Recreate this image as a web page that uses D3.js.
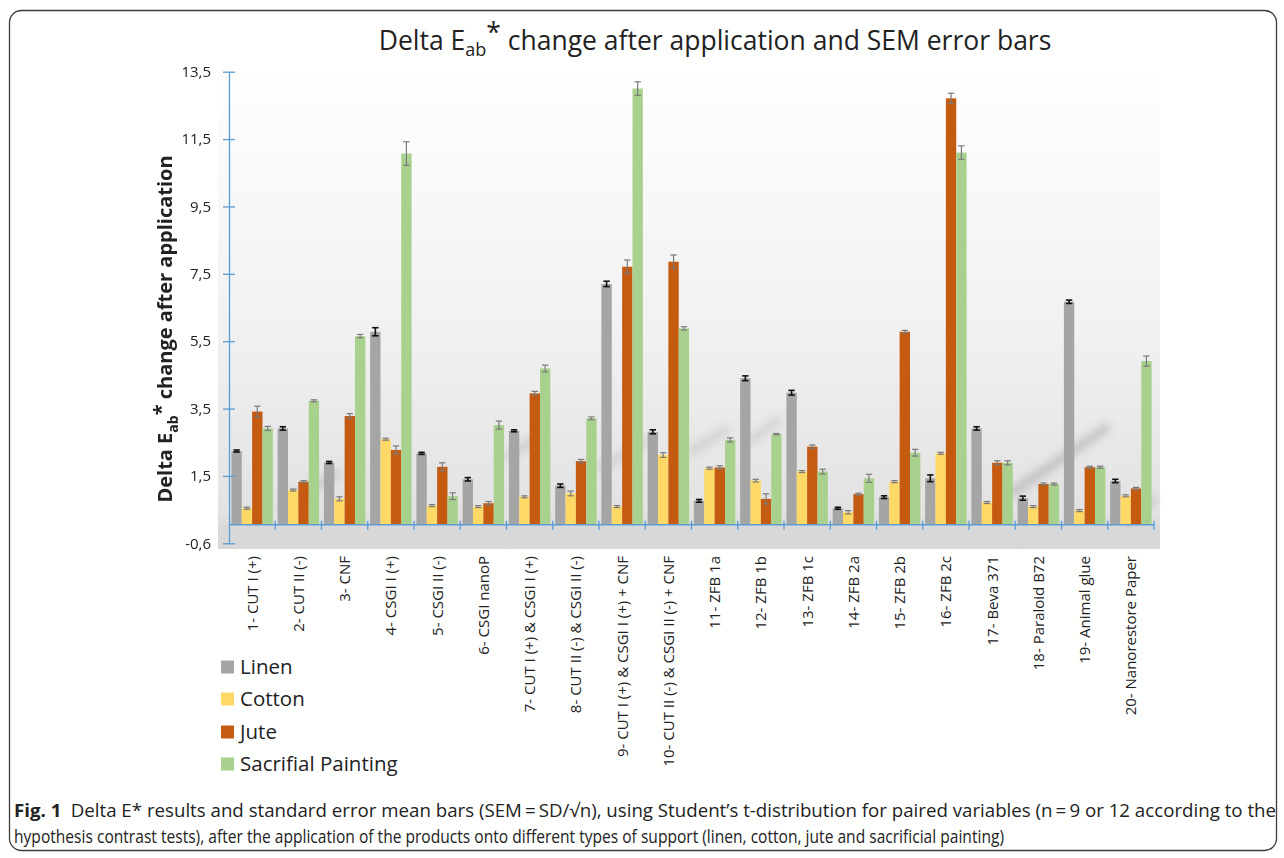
<!DOCTYPE html>
<html>
<head>
<meta charset="utf-8">
<script src="https://cdn.jsdelivr.net/npm/d3@7"></script>
<style>
  html, body { margin: 0; padding: 0; background: #fff; }
  svg { display: block; font-family: "Open Sans", "Noto Sans", sans-serif; }
</style>
</head>
<body>
<svg id="chart" width="1284" height="858"></svg>
<script>
// Treatments applied to the supports
const categories = [
  "1- CUT I (+)", "2- CUT II (-)", "3- CNF", "4- CSGI I (+)", "5- CSGI II (-)",
  "6- CSGI nanoP", "7- CUT I (+) & CSGI I (+)", "8- CUT II (-) & CSGI II (-)",
  "9- CUT I (+) & CSGI I (+) + CNF", "10- CUT II (-) & CSGI II (-) + CNF",
  "11- ZFB 1a", "12- ZFB 1b", "13- ZFB 1c", "14- ZFB 2a", "15- ZFB 2b",
  "16- ZFB 2c", "17- Beva 371", "18- Paraloid B72", "19- Animal glue",
  "20- Nanorestore Paper"
];

// Supports (series)
const seriesNames = ["Linen", "Cotton", "Jute", "Sacrifial Painting"];
const seriesColors = ["#a5a5a5", "#ffd966", "#c55a11", "#a9d18e"];
const errorColors = ["#111111", "#7a7a7a", "#7a7a7a", "#7a7a7a"];

// Mean Delta E*ab per treatment
const linen       = [2.19, 2.86, 1.85, 5.73, 2.12, 1.35, 2.79, 1.16, 7.15, 2.76, 0.71, 4.35, 3.92, 0.49, 0.82, 1.38, 2.86, 0.79, 6.62, 1.30];
const cotton      = [0.49, 1.03, 0.77, 2.54, 0.57, 0.54, 0.83, 0.93, 0.54, 2.07, 1.68, 1.31, 1.58, 0.37, 1.28, 2.12, 0.66, 0.54, 0.42, 0.86];
const jute        = [3.36, 1.28, 3.23, 2.22, 1.72, 0.64, 3.90, 1.89, 7.66, 7.81, 1.70, 0.77, 2.32, 0.91, 5.73, 12.66, 1.84, 1.21, 1.71, 1.08];
const sacrificial = [2.86, 3.68, 5.60, 11.02, 0.85, 2.96, 4.64, 3.16, 12.95, 5.83, 2.52, 2.69, 1.58, 1.38, 2.14, 11.05, 1.84, 1.21, 1.71, 4.86];

// Standard error of the mean per treatment
const linenSem       = [0.03, 0.05, 0.03, 0.12, 0.03, 0.05, 0.03, 0.05, 0.08, 0.06, 0.04, 0.07, 0.07, 0.03, 0.04, 0.10, 0.05, 0.06, 0.05, 0.05];
const cottonSem      = [0.03, 0.03, 0.06, 0.03, 0.03, 0.03, 0.03, 0.07, 0.03, 0.07, 0.03, 0.04, 0.03, 0.05, 0.03, 0.03, 0.03, 0.03, 0.03, 0.03];
const juteSem        = [0.16, 0.03, 0.07, 0.12, 0.12, 0.05, 0.06, 0.05, 0.20, 0.20, 0.05, 0.15, 0.05, 0.03, 0.04, 0.15, 0.06, 0.03, 0.03, 0.03];
const sacrificialSem = [0.06, 0.03, 0.05, 0.35, 0.10, 0.12, 0.10, 0.04, 0.20, 0.05, 0.06, 0.02, 0.07, 0.12, 0.10, 0.20, 0.06, 0.03, 0.03, 0.15];

// Value axis ticks and their printed labels
const yTickValues = [-0.55, 1.45, 3.45, 5.45, 7.45, 9.45, 11.45, 13.45];
const yTickLabels = ["-0,6", "1,5", "3,5", "5,5", "7,5", "9,5", "11,5", "13,5"];

const seriesValues = [linen, cotton, jute, sacrificial];
const seriesSem = [linenSem, cottonSem, juteSem, sacrificialSem];

const svg = d3.select("#chart");
const defs = svg.append("defs");

// Plot-area background gradient
const grad = defs.append("linearGradient").attr("id", "plotBg")
  .attr("x1", 0).attr("y1", 0).attr("x2", 0).attr("y2", 1);
grad.append("stop").attr("offset", "0").attr("stop-color", "#ffffff");
grad.append("stop").attr("offset", "0.55").attr("stop-color", "#f1f1f1");
grad.append("stop").attr("offset", "0.93").attr("stop-color", "#e2e2e2");
grad.append("stop").attr("offset", "0.955").attr("stop-color", "#d9d9d9");
grad.append("stop").attr("offset", "1").attr("stop-color", "#d7d7d7");

defs.append("filter").attr("id", "soft").attr("x", "-50%").attr("y", "-50%").attr("width", "200%").attr("height", "200%")
  .append("feGaussianBlur").attr("stdDeviation", 4);

// Outer figure frame
svg.append("rect")
  .attr("x", 9.5).attr("y", 10.5).attr("width", 1267).attr("height", 840)
  .attr("rx", 12).attr("ry", 12)
  .attr("fill", "#fff").attr("stroke", "#3d3d3d").attr("stroke-width", 1.3);

// Scales
const x0 = d3.scaleBand().domain(categories).range([229, 1154]).paddingInner(0).paddingOuter(0);
const x1 = d3.scaleBand().domain(seriesNames).range([2.4, x0.bandwidth() - 2.4]).padding(0);
const y = d3.scaleLinear().domain([-0.55, 13.45]).range([543.3, 71.7]);

// Plot area
svg.append("rect")
  .attr("x", 218).attr("y", 62).attr("width", 942).attr("height", 487)
  .attr("fill", "url(#plotBg)");

// Faint diagonal shadow streaks on the plot background
const streaks = [
  [284, 504, 336, 474, 0.35], [508, 456, 540, 437, 0.3], [600, 468, 648, 441, 0.25],
  [690, 452, 726, 430, 0.25], [752, 440, 778, 420, 0.25], [1013, 492, 1106, 428, 0.45],
  [1128, 522, 1152, 500, 0.35]
];
svg.append("g").attr("filter", "url(#soft)")
  .selectAll("line").data(streaks).join("line")
  .attr("x1", d => d[0]).attr("y1", d => d[1]).attr("x2", d => d[2]).attr("y2", d => d[3])
  .attr("stroke", "#8c8c8c").attr("stroke-width", 8).attr("stroke-linecap", "round")
  .attr("opacity", d => d[4]);

// Bars
const rows = [];
categories.forEach((c, i) => {
  seriesNames.forEach((s, j) => {
    rows.push({ cat: c, series: s, j, value: seriesValues[j][i], sem: seriesSem[j][i] });
  });
});

const barG = svg.append("g");
barG.selectAll("rect").data(rows).join("rect")
  .attr("x", d => x0(d.cat) + x1(d.series))
  .attr("width", x1.bandwidth())
  .attr("y", d => y(Math.max(0, d.value)))
  .attr("height", d => Math.abs(y(d.value) - y(0)))
  .attr("fill", d => seriesColors[d.j]);

// SEM error bars
const errG = svg.append("g").selectAll("g").data(rows).join("g")
  .attr("stroke", d => errorColors[d.j])
  .attr("stroke-width", d => d.j === 0 ? 1.6 : 1.2);
const cx = d => x0(d.cat) + x1(d.series) + x1.bandwidth() / 2;
errG.append("line")
  .attr("x1", cx).attr("x2", cx)
  .attr("y1", d => y(d.value + d.sem)).attr("y2", d => y(d.value - d.sem));
errG.append("line")
  .attr("x1", d => cx(d) - 3.2).attr("x2", d => cx(d) + 3.2)
  .attr("y1", d => y(d.value + d.sem)).attr("y2", d => y(d.value + d.sem));
errG.append("line")
  .attr("x1", d => cx(d) - 3.2).attr("x2", d => cx(d) + 3.2)
  .attr("y1", d => y(d.value - d.sem)).attr("y2", d => y(d.value - d.sem));

// Category axis at zero, with cross ticks between groups
const axisBlue = "#5b9bd5";
svg.append("line")
  .attr("x1", x0.range()[0]).attr("x2", x0.range()[1])
  .attr("y1", y(0)).attr("y2", y(0))
  .attr("stroke", axisBlue).attr("stroke-width", 1.3);
const bounds = categories.map(c => x0(c)).concat([x0.range()[1]]);
svg.append("g").selectAll("line").data(bounds.slice(1)).join("line")
  .attr("x1", d => d).attr("x2", d => d)
  .attr("y1", y(0) - 4).attr("y2", y(0) + 5)
  .attr("stroke", axisBlue).attr("stroke-width", 1.3);

// Category labels
svg.append("g").selectAll("text").data(categories).join("text")
  .attr("transform", d => `translate(${x0(d) + x0.bandwidth() / 2 + 5.5},556) rotate(-90)`)
  .attr("text-anchor", "end")
  .attr("font-size", 15)
  .attr("fill", "#222")
  .text(d => d);

// Value axis
const yAxis = d3.axisLeft(y)
  .tickValues(yTickValues)
  .tickFormat((d, i) => yTickLabels[i])
  .tickSizeInner(6).tickSizeOuter(0).tickPadding(12);
const yAxisG = svg.append("g").attr("transform", "translate(229,0)").call(yAxis);
yAxisG.select(".domain").attr("stroke", axisBlue).attr("stroke-width", 1.3);
yAxisG.selectAll(".tick line").attr("x1", -6).attr("x2", 6).attr("stroke", axisBlue).attr("stroke-width", 1.3);
yAxisG.selectAll(".tick text").attr("font-size", 15).attr("fill", "#222")
  .attr("font-family", "'Open Sans', sans-serif");

// Value axis title
const yTitle = svg.append("text")
  .attr("transform", "translate(172,329) rotate(-90)")
  .attr("text-anchor", "middle")
  .attr("font-size", 20).attr("font-weight", "bold").attr("fill", "#222");
yTitle.append("tspan").text("Delta E");
yTitle.append("tspan").attr("font-size", 14).attr("dy", 6).text("ab");
yTitle.append("tspan").attr("dy", -10).text("*");
yTitle.append("tspan").attr("dy", 4).text(" change after application");

// Chart title
const title = svg.append("text")
  .attr("x", 715).attr("y", 50)
  .attr("text-anchor", "middle")
  .attr("font-size", 26.5).attr("fill", "#222");
title.append("tspan").text("Delta E");
title.append("tspan").attr("font-size", 18).attr("dy", 6).text("ab");
title.append("tspan").attr("dy", -14).text("*");
title.append("tspan").attr("dy", 8).text(" change after application and SEM error bars");

// Legend
const legend = svg.append("g").selectAll("g").data(seriesNames).join("g")
  .attr("transform", (d, i) => `translate(221,${[667, 699, 732, 764][i]})`);
legend.append("rect")
  .attr("x", 0).attr("y", -6.5).attr("width", 13).attr("height", 13)
  .attr("fill", (d, i) => seriesColors[i]);
legend.append("text")
  .attr("x", 19).attr("dy", "0.36em")
  .attr("font-size", 20.5).attr("fill", "#222")
  .text(d => d);

// Figure caption
const cap1 = svg.append("text")
  .attr("x", 14).attr("y", 817)
  .attr("font-size", 18.5).attr("fill", "#222")
  .attr("textLength", 1262).attr("lengthAdjust", "spacingAndGlyphs");
cap1.append("tspan").attr("font-weight", "bold").text("Fig. 1");
cap1.append("tspan").text("\u2002Delta E* results and standard error mean bars (SEM\u2009=\u2009SD/\u221An), using Student\u2019s t-distribution for paired variables (n\u2009=\u20099 or 12 according to the");
svg.append("text")
  .attr("x", 14).attr("y", 843)
  .attr("font-size", 18.5).attr("fill", "#222")
  .attr("textLength", 990).attr("lengthAdjust", "spacingAndGlyphs")
  .text("hypothesis contrast tests), after the application of the products onto different types of support (linen, cotton, jute and sacrificial painting)");
</script>
</body>
</html>
